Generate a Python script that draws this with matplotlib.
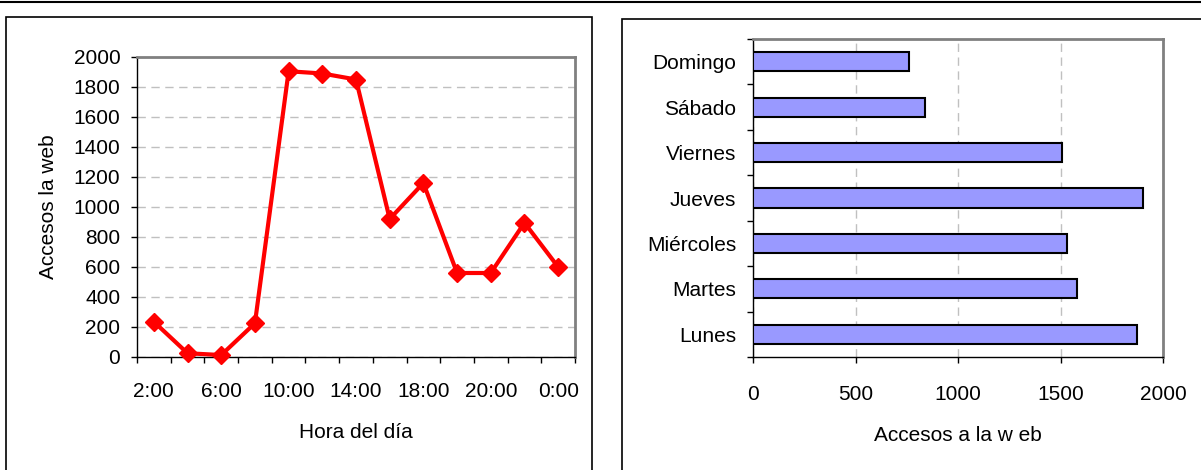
import matplotlib
matplotlib.use("Agg")
import matplotlib.pyplot as plt
from matplotlib.patches import Rectangle
from matplotlib.lines import Line2D

# data
horas = ["2:00", "4:00", "6:00", "8:00", "10:00", "12:00", "14:00",
         "16:00", "18:00", "19:00", "20:00", "22:00", "0:00"]
accesos_hora = [235, 25, 13, 225, 1905, 1890, 1850, 920, 1160, 560, 560, 895, 600]

dias = ["Lunes", "Martes", "Miércoles", "Jueves", "Viernes", "Sábado", "Domingo"]
accesos_dia = [1875, 1580, 1530, 1900, 1505, 840, 760]

plt.rcParams.update({
    "font.family": ["Liberation Sans", "DejaVu Sans"],
    "font.size": 15,
})

W, H = 1201, 470
fig = plt.figure(figsize=(W / 100, H / 100), dpi=100)

# panel frames and top rule (pixel coords -> figure fraction)
def px(x, y):
    return x / W, 1 - y / H

fig.add_artist(Line2D([0, 1], [1 - 1.5 / H] * 2, color="black", lw=1.5))
x0, y0 = px(6, 475)
x1, y1 = px(592, 17)
fig.add_artist(Rectangle((x0, y0), x1 - x0, y1 - y0, fill=False,
                         ec="black", lw=1.2, transform=fig.transFigure))
x0, y0 = px(622, 475)
x1, y1 = px(1210, 19)
fig.add_artist(Rectangle((x0, y0), x1 - x0, y1 - y0, fill=False,
                         ec="black", lw=1.2, transform=fig.transFigure))

GRID = dict(color="#C0C0C0", lw=1.0, linestyle=(0, (6, 4)))

# ---------------- left: accesos por hora ----------------
ax1 = fig.add_axes([137 / W, 1 - 357 / H, (575 - 137) / W, (357 - 57) / H])
n = len(horas)
xs = list(range(n))
ax1.plot(xs, accesos_hora, color="#FF0000", lw=3, marker="D", ms=9.5,
         mec="#FF0000", mfc="#FF0000", clip_on=False, zorder=3)
ax1.set_xlim(-0.5, n - 0.5)
ax1.set_ylim(0, 2000)
ax1.set_yticks(range(0, 2001, 200))
ax1.set_xticks([i - 0.5 for i in range(n + 1)], minor=False)
ax1.set_xticklabels([])
ax1.set_xticks(xs[::2], minor=True)
ax1.set_xticklabels(horas[::2], minor=True)
ax1.tick_params(axis="x", which="minor", length=0, pad=18)
ax1.tick_params(axis="x", which="major", length=4, width=1, direction="out")
ax1.tick_params(axis="y", length=4, width=1, direction="out", pad=8)
ax1.yaxis.grid(True, **GRID)
ax1.set_axisbelow(True)
for s in ("top", "right"):
    ax1.spines[s].set_color("#808080")
    ax1.spines[s].set_linewidth(2)
for s in ("left", "bottom"):
    ax1.spines[s].set_color("black")
    ax1.spines[s].set_linewidth(1)
ax1.set_xlabel("Hora del día", labelpad=16)
ax1.set_ylabel("Accesos la web", labelpad=11)

# ---------------- right: accesos por día ----------------
ax2 = fig.add_axes([753 / W, 1 - 357 / H, (1163 - 753) / W, (357 - 39) / H])
ys = list(range(len(dias)))
ax2.barh(ys, accesos_dia, height=0.42, color="#9999FF", edgecolor="black",
         lw=1.5, zorder=3)
ax2.set_xlim(0, 2000)
ax2.set_ylim(-0.5, len(dias) - 0.5)
ax2.set_xticks(range(0, 2001, 500))
ax2.set_yticks([i - 0.5 for i in range(len(dias) + 1)])
ax2.set_yticklabels([])
ax2.set_yticks(ys, minor=True)
ax2.set_yticklabels(dias, minor=True)
ax2.tick_params(axis="y", which="minor", length=0, pad=12)
ax2.tick_params(axis="y", which="major", length=4, width=1, direction="out")
ax2.tick_params(axis="x", length=4, width=1, direction="out", pad=16)
ax2.xaxis.grid(True, **GRID)
ax2.set_axisbelow(True)
for s in ("top", "right"):
    ax2.spines[s].set_color("#808080")
    ax2.spines[s].set_linewidth(2)
for s in ("left", "bottom"):
    ax2.spines[s].set_color("black")
    ax2.spines[s].set_linewidth(1)
ax2.set_xlabel("Accesos a la w eb", labelpad=16)

fig.savefig("out.png", dpi=100)
